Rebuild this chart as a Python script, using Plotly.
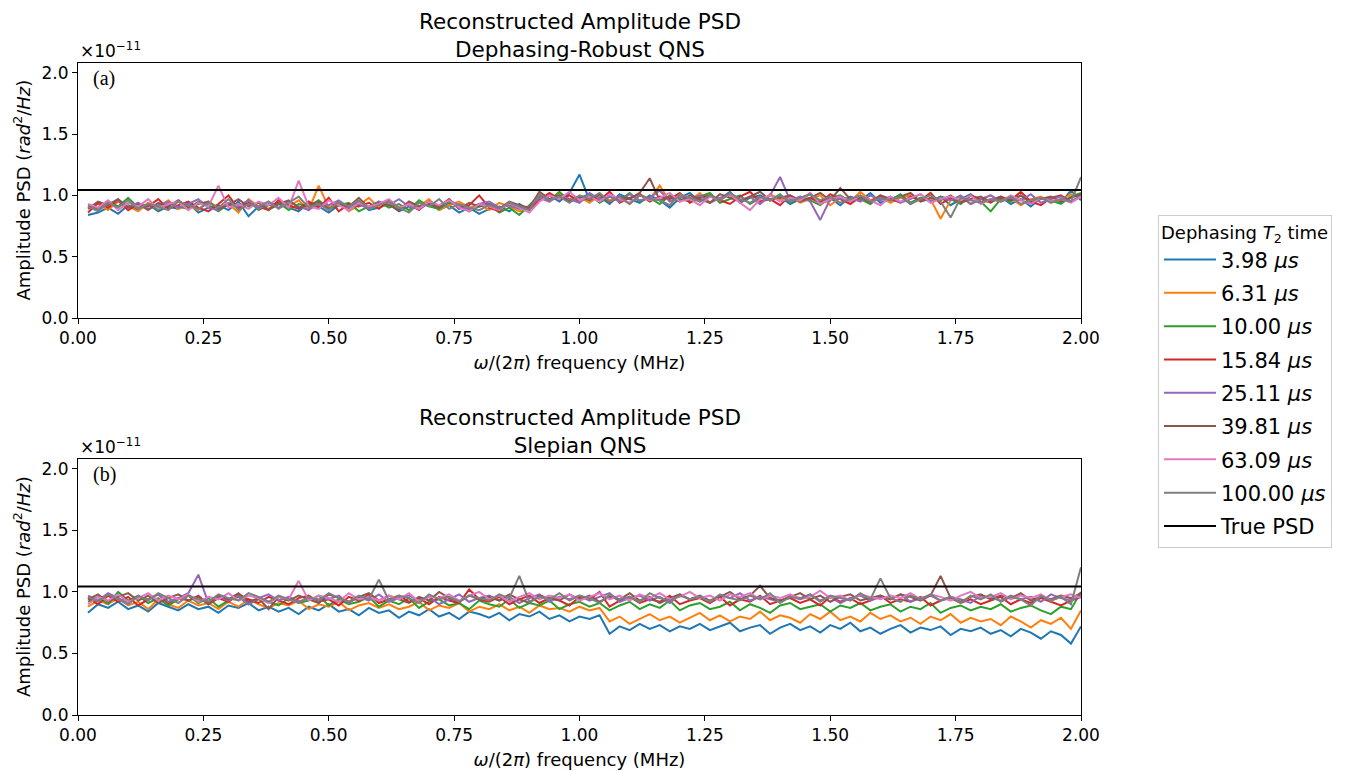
import plotly.graph_objects as go

# Frequency grid (MHz)
FREQ_MHZ = [
    0.02, 0.04, 0.06, 0.08, 0.10, 0.12, 0.14, 0.16, 0.18, 0.20,
    0.22, 0.24, 0.26, 0.28, 0.30, 0.32, 0.34, 0.36, 0.38, 0.40,
    0.42, 0.44, 0.46, 0.48, 0.50, 0.52, 0.54, 0.56, 0.58, 0.60,
    0.62, 0.64, 0.66, 0.68, 0.70, 0.72, 0.74, 0.76, 0.78, 0.80,
    0.82, 0.84, 0.86, 0.88, 0.90, 0.92, 0.94, 0.96, 0.98, 1.00,
    1.02, 1.04, 1.06, 1.08, 1.10, 1.12, 1.14, 1.16, 1.18, 1.20,
    1.22, 1.24, 1.26, 1.28, 1.30, 1.32, 1.34, 1.36, 1.38, 1.40,
    1.42, 1.44, 1.46, 1.48, 1.50, 1.52, 1.54, 1.56, 1.58, 1.60,
    1.62, 1.64, 1.66, 1.68, 1.70, 1.72, 1.74, 1.76, 1.78, 1.80,
    1.82, 1.84, 1.86, 1.88, 1.90, 1.92, 1.94, 1.96, 1.98, 2.00,
]

T2_LABELS = ["3.98", "6.31", "10.00", "15.84", "25.11", "39.81", "63.09", "100.00"]

# Values in units of 1e-11 rad^2/Hz
# (a) Dephasing-Robust QNS
A_398 = [0.84,0.86,0.90,0.85,0.92,0.88,0.93,0.87,0.91,0.89,
         0.94,0.86,0.90,0.92,0.88,0.95,0.83,0.91,0.89,0.93,
         0.90,0.87,0.94,0.91,0.86,0.92,0.89,0.95,0.88,0.90,
         0.93,0.87,0.91,0.89,0.94,0.88,0.92,0.86,0.90,0.85,
         0.89,0.91,0.87,0.93,0.88,0.97,1.00,0.95,1.02,1.17,
         0.96,0.99,0.93,1.01,0.97,0.94,1.00,0.96,0.90,0.98,
         1.02,0.95,0.99,0.97,1.03,0.94,0.98,1.00,0.96,0.99,
         0.93,0.97,1.01,0.95,0.98,0.92,0.99,0.96,1.02,0.94,
         0.97,1.00,0.93,0.98,0.95,0.99,0.92,0.97,1.01,0.94,
         0.96,0.99,0.93,0.97,0.91,0.98,0.95,0.94,1.04,0.96]
A_631 = [0.90,0.93,0.88,0.95,0.91,0.87,0.94,0.90,0.96,0.89,
         0.92,0.88,0.95,0.90,0.93,0.86,0.97,0.91,0.89,0.94,
         0.91,0.96,0.88,1.08,0.90,0.95,0.87,0.92,0.98,0.90,
         0.94,0.89,0.93,0.91,0.97,0.88,0.92,0.95,0.90,0.93,
         0.88,0.94,0.91,0.87,0.90,0.99,0.95,1.02,0.97,0.99,
         0.94,1.00,0.96,0.98,0.93,1.01,0.97,1.08,0.95,0.99,
         0.96,1.02,0.94,0.98,1.00,0.95,0.99,0.93,1.01,0.97,
         0.99,0.94,0.97,1.00,0.92,0.98,0.95,1.03,0.96,0.99,
         0.94,0.98,1.00,0.95,0.97,0.81,0.96,0.99,0.93,0.97,
         1.00,0.95,0.98,0.92,0.97,0.99,0.94,0.96,1.01,0.98]
A_1000 = [0.92,0.89,0.95,0.91,0.98,0.90,0.93,0.88,0.94,0.91,
          0.89,0.95,0.92,0.87,0.93,0.90,0.96,0.88,0.92,0.94,
          0.88,0.93,0.91,0.96,0.89,0.92,0.94,0.87,0.91,0.95,
          0.90,0.93,0.88,0.96,0.91,0.89,0.94,0.92,0.87,0.91,
          0.93,0.86,0.90,0.84,0.92,1.00,0.96,1.03,0.95,0.98,
          1.01,0.94,0.99,0.96,1.02,0.95,0.98,0.93,1.00,0.97,
          0.95,0.99,1.02,0.94,0.97,1.00,0.93,0.98,0.96,1.01,
          0.94,0.99,0.96,0.92,0.98,1.00,0.95,0.97,0.93,0.99,
          0.96,1.01,0.94,0.98,0.95,0.99,0.97,0.93,1.00,0.95,
          0.87,0.97,0.95,1.00,0.94,0.98,0.96,0.93,0.99,1.02]
A_1584 = [0.86,0.94,0.90,0.96,0.88,0.93,0.91,0.97,0.89,0.92,
          0.95,0.90,0.87,0.93,1.00,0.89,0.94,0.91,0.88,0.96,
          0.92,0.89,0.95,0.90,0.98,0.87,0.93,0.91,0.94,0.89,
          0.96,0.90,0.93,0.88,0.95,0.91,0.97,0.89,0.92,1.00,
          0.90,0.87,0.94,0.91,0.89,0.96,1.02,0.97,1.00,0.95,
          0.99,0.96,1.03,0.94,0.98,1.01,0.95,0.99,0.97,1.02,
          0.94,0.98,1.00,0.96,0.93,0.99,1.03,0.95,0.97,0.92,
          1.00,0.96,0.98,0.94,1.01,0.97,0.93,0.99,0.95,1.00,
          0.97,0.94,0.99,0.96,1.02,0.93,0.98,0.95,1.00,0.97,
          0.94,0.99,0.96,1.03,0.95,0.92,0.98,1.00,0.95,0.99]
A_2511 = [0.91,0.88,0.93,0.96,0.90,0.94,0.89,0.92,0.95,0.90,
          0.93,0.97,0.90,0.88,0.94,0.91,0.96,0.89,0.93,0.90,
          0.95,0.91,0.88,0.94,0.92,0.96,0.90,0.93,0.89,0.95,
          0.92,0.97,0.91,0.89,0.94,0.90,0.96,0.92,0.88,0.93,
          0.95,0.90,0.92,0.89,0.91,0.98,0.95,1.00,0.97,0.94,
          1.02,0.97,0.99,0.95,1.01,0.96,0.98,1.04,0.95,0.99,
          0.97,1.00,0.94,0.98,1.01,0.96,0.99,0.93,1.00,1.15,
          0.96,0.99,0.95,0.80,0.97,0.97,0.98,0.95,1.00,0.96,
          0.99,0.94,0.97,1.01,0.95,0.98,0.96,1.00,0.93,0.97,
          1.00,0.95,0.98,0.96,1.01,0.94,0.97,0.99,0.95,1.00]
A_3981 = [0.89,0.95,0.92,0.97,0.90,0.93,0.88,0.94,0.91,0.96,
          0.90,0.93,0.95,0.89,0.92,0.97,0.91,0.94,0.88,0.93,
          0.96,0.90,0.92,0.95,0.89,0.93,0.91,0.98,0.90,0.94,
          0.92,0.88,0.95,0.91,0.93,0.90,0.96,0.89,0.94,0.91,
          0.93,0.89,0.95,0.92,0.90,1.03,0.97,1.00,0.95,0.99,
          0.96,1.01,0.94,0.99,0.97,1.02,1.14,0.96,0.99,0.95,
          1.00,0.97,0.94,1.01,0.98,0.95,0.99,1.03,0.96,0.98,
          1.00,0.95,0.98,1.02,0.96,1.06,0.97,0.99,0.94,1.00,
          0.96,0.99,1.02,0.95,0.98,0.96,1.00,0.94,0.97,0.99,
          0.95,0.98,0.96,1.00,0.94,0.97,0.99,0.95,0.98,1.01]
A_6309 = [0.93,0.90,0.96,0.88,0.94,0.91,0.97,0.89,0.93,0.95,
          0.88,0.94,0.91,1.08,0.90,0.93,0.89,0.95,0.92,0.98,
          0.90,1.12,0.91,0.89,0.96,0.92,0.88,0.94,0.91,0.93,
          0.97,0.90,0.93,0.89,0.95,0.92,0.96,0.90,0.87,0.93,
          0.91,0.88,0.94,0.90,0.86,0.95,1.00,0.97,1.03,0.96,
          0.99,0.95,1.01,0.97,0.94,1.00,0.96,0.98,1.02,0.95,
          0.97,0.92,0.99,0.96,1.01,0.94,0.88,0.97,1.00,0.95,
          0.98,0.96,1.02,0.93,0.97,0.99,0.95,1.00,0.96,0.92,
          0.99,0.95,0.98,1.01,0.94,0.97,0.99,0.96,1.00,0.93,
          0.97,0.95,1.00,0.96,0.93,0.98,0.95,0.97,0.94,0.99]
A_10000 = [0.91,0.87,0.94,0.90,0.96,0.89,0.93,0.91,0.88,0.95,
           0.92,0.89,0.94,0.90,0.97,0.88,0.93,0.91,0.95,0.89,
           0.94,0.99,0.90,0.93,0.88,0.95,0.91,0.96,0.89,0.92,
           0.95,0.90,0.86,0.94,0.91,0.97,0.89,0.93,0.90,0.88,
           0.92,0.89,0.94,0.91,0.88,1.01,0.96,0.99,0.94,1.00,
           0.97,1.02,0.95,0.99,0.93,1.00,0.97,0.96,0.92,1.01,
           0.98,0.95,1.00,0.96,1.02,0.97,0.94,0.99,0.96,1.00,
           0.95,0.98,1.01,0.96,0.99,0.94,0.97,1.00,0.95,0.98,
           0.96,0.99,0.93,0.97,1.00,0.95,0.82,0.98,0.96,0.94,
           0.97,0.95,0.99,0.93,0.96,0.98,0.94,0.97,0.95,1.15]

# (b) Slepian QNS
B_398 = [0.83,0.90,0.87,0.92,0.86,0.89,0.84,0.91,0.88,0.85,
         0.90,0.86,0.88,0.83,0.89,0.87,0.91,0.85,0.88,0.84,
         0.87,0.82,0.88,0.85,0.90,0.84,0.86,0.81,0.87,0.83,
         0.85,0.79,0.84,0.81,0.86,0.80,0.83,0.78,0.84,0.82,
         0.79,0.83,0.77,0.82,0.80,0.84,0.78,0.81,0.76,0.80,
         0.78,0.81,0.66,0.72,0.69,0.74,0.70,0.73,0.68,0.72,
         0.70,0.74,0.69,0.72,0.75,0.68,0.71,0.73,0.66,0.71,
         0.74,0.69,0.72,0.67,0.73,0.70,0.75,0.68,0.71,0.66,
         0.70,0.73,0.67,0.71,0.69,0.72,0.65,0.70,0.68,0.71,
         0.66,0.69,0.64,0.70,0.67,0.62,0.68,0.65,0.58,0.72]
B_631 = [0.88,0.93,0.90,0.95,0.89,0.92,0.86,0.94,0.90,0.87,
         0.93,0.89,0.91,0.86,0.92,0.88,0.94,0.90,0.87,0.91,
         0.89,0.93,0.86,0.90,0.88,0.92,0.85,0.89,0.91,0.87,
         0.90,0.86,0.88,0.92,0.85,0.89,0.87,0.91,0.84,0.88,
         0.86,0.90,0.85,0.88,0.83,0.89,0.86,0.87,0.84,0.88,
         0.85,0.87,0.76,0.80,0.74,0.78,0.82,0.77,0.80,0.75,
         0.79,0.83,0.77,0.81,0.76,0.80,0.78,0.84,0.77,0.81,
         0.79,0.75,0.82,0.78,0.84,0.77,0.80,0.76,0.83,0.78,
         0.81,0.76,0.79,0.74,0.80,0.77,0.82,0.75,0.79,0.76,
         0.78,0.73,0.80,0.76,0.71,0.77,0.74,0.79,0.70,0.85]
B_1000 = [0.92,0.96,0.90,1.00,0.93,0.97,0.91,0.95,0.89,0.94,
          0.97,0.91,0.95,0.88,0.93,0.96,0.90,0.94,0.92,0.89,
          0.95,0.91,0.93,0.97,0.89,0.94,0.90,0.92,0.96,0.88,
          0.93,0.90,0.95,0.87,0.92,0.94,0.89,0.91,0.86,0.93,
          0.90,0.88,0.94,0.87,0.91,0.89,0.93,0.86,0.90,0.92,
          0.88,0.91,0.85,0.89,0.92,0.86,0.90,0.87,0.93,0.85,
          0.89,0.91,0.86,0.88,0.92,0.85,0.90,0.87,0.83,0.89,
          0.91,0.86,0.88,0.90,0.84,0.89,0.87,0.91,0.85,0.88,
          0.90,0.84,0.88,0.86,0.91,0.83,0.87,0.89,0.85,0.88,
          0.86,0.90,0.84,0.87,0.89,0.85,0.82,0.88,0.86,1.00]
B_1584 = [0.95,0.90,0.97,0.92,0.96,0.89,0.94,0.98,0.91,0.95,
          0.93,0.97,0.90,0.95,0.92,0.98,0.94,0.91,0.96,0.93,
          0.90,0.95,0.97,0.92,0.94,0.89,0.96,0.93,0.98,0.91,
          0.94,0.97,0.92,0.95,0.90,0.96,0.93,0.91,1.02,0.94,
          0.92,0.96,0.90,0.94,0.97,0.91,0.95,0.93,0.89,0.96,
          0.94,1.00,0.88,0.93,0.96,0.91,0.94,0.92,0.97,0.90,
          0.93,0.95,0.91,0.96,0.89,0.94,0.92,0.97,0.90,0.93,
          0.95,0.91,0.94,0.89,0.96,0.92,0.95,0.90,0.93,0.97,
          0.91,0.94,0.92,0.96,0.89,0.93,0.95,0.91,0.94,0.90,
          0.93,0.96,0.90,0.94,0.91,0.95,0.92,0.89,0.93,0.96]
B_2511 = [0.97,0.93,0.99,0.95,0.91,0.96,0.94,0.98,0.92,0.95,
          0.99,1.14,0.91,0.96,0.93,0.97,0.90,0.95,0.98,0.93,
          0.96,0.92,0.95,0.94,0.94,0.97,0.91,0.96,0.93,0.98,
          0.92,0.95,0.97,0.93,0.96,0.90,0.94,0.98,0.92,0.95,
          0.97,0.93,0.96,0.91,0.95,0.98,0.92,0.96,0.94,0.97,
          0.93,0.96,0.99,0.92,0.95,0.97,0.93,0.96,0.91,0.98,
          0.94,0.96,0.92,0.97,0.95,0.99,0.93,0.96,0.94,0.92,
          0.97,0.95,0.98,0.93,0.96,0.91,0.95,0.97,0.93,0.96,
          0.94,0.98,0.92,0.95,0.97,0.93,0.96,0.94,0.91,0.97,
          0.95,0.93,0.97,0.94,0.96,0.92,0.98,0.95,0.93,0.97]
B_3981 = [0.94,0.98,0.92,0.96,0.99,0.93,0.97,0.91,0.95,0.98,
          0.93,0.96,0.90,0.97,0.94,0.99,0.92,0.95,0.86,0.96,
          0.93,0.97,0.94,0.91,0.98,0.95,0.92,0.96,0.99,0.93,
          0.97,0.94,0.91,0.96,0.93,1.00,0.95,0.92,0.97,0.94,
          0.96,0.93,0.98,0.94,0.91,0.97,0.95,0.93,0.98,0.94,
          0.97,0.92,0.96,0.94,0.99,0.93,0.96,0.91,0.95,0.98,
          0.94,0.97,0.93,0.96,1.00,0.94,0.97,1.05,0.95,0.93,
          0.96,0.99,0.94,0.97,0.92,0.96,0.98,0.93,0.95,0.97,
          0.94,0.98,0.96,0.93,0.97,1.13,0.95,0.92,0.96,0.98,
          0.94,0.97,0.95,0.99,0.93,0.96,0.94,0.97,0.95,0.99]
B_6309 = [0.90,0.96,0.93,0.98,0.92,0.95,0.99,0.93,0.97,0.94,
          0.98,0.92,0.96,0.94,0.99,0.93,0.97,0.95,0.91,0.96,
          0.94,1.09,0.93,0.97,0.95,0.92,0.99,0.94,0.96,0.93,
          0.97,0.94,0.99,0.92,0.96,0.95,0.98,0.93,0.97,1.00,
          0.94,0.97,0.92,0.96,0.99,0.94,0.97,0.95,0.98,0.93,
          0.96,0.99,0.94,0.97,0.93,0.98,0.95,0.99,0.94,0.96,
          1.00,0.95,0.97,0.93,0.98,0.96,0.99,0.94,0.97,0.95,
          0.98,0.94,0.96,1.01,0.95,0.97,0.93,0.98,0.96,0.94,
          0.97,0.95,0.99,0.94,0.98,0.96,0.93,0.97,1.00,0.95,
          0.96,0.99,0.94,0.97,0.95,0.98,0.93,0.96,0.98,0.95]
B_10000 = [0.96,0.92,0.98,0.94,0.90,0.97,0.93,0.99,0.95,0.91,
           0.97,0.94,0.92,0.98,0.95,0.93,0.99,0.96,0.92,0.97,
           0.94,0.91,0.96,0.93,0.99,0.95,0.92,0.97,0.94,1.10,
           0.93,0.97,0.95,0.91,0.98,0.94,0.96,0.92,0.97,0.95,
           0.93,0.98,0.95,1.13,0.92,0.96,0.94,0.99,0.93,0.97,
           0.95,0.91,0.98,0.94,0.96,0.92,0.99,0.95,0.93,0.97,
           0.94,0.96,0.92,0.98,0.95,0.93,0.97,0.94,0.99,0.91,
           0.96,0.94,0.98,0.92,0.97,0.95,0.93,0.99,0.94,1.11,
           0.95,0.92,0.97,0.94,0.98,0.93,0.96,0.91,0.97,0.94,
           0.98,0.92,0.96,0.94,0.89,0.97,0.93,0.96,0.90,1.20]

TRUE_PSD_LEVEL = 1.045
X_RANGE = [0.0, 2.0]
Y_RANGE = [0.0, 2.08]
X_TICKS = [0.0, 0.25, 0.5, 0.75, 1.0, 1.25, 1.5, 1.75, 2.0]
Y_TICKS = [0.0, 0.5, 1.0, 1.5, 2.0]

SERIES_A = [A_398, A_631, A_1000, A_1584, A_2511, A_3981, A_6309, A_10000]
SERIES_B = [B_398, B_631, B_1000, B_1584, B_2511, B_3981, B_6309, B_10000]
COLORS = ["#1f77b4", "#ff7f0e", "#2ca02c", "#d62728",
          "#9467bd", "#8c564b", "#e377c2", "#7f7f7f"]

FONT = "DejaVu Sans"
# page body has an 8px margin; the figure sits at (8, 8) in the window
OFF = 8
W, H = 1341, 763
XDOM = [(78 - OFF) / W, (1081 - OFF) / W]
YDOM_A = [1 - (318 - OFF) / H, 1 - (63 - OFF) / H]
YDOM_B = [1 - (715 - OFF) / H, 1 - (459 - OFF) / H]

fig = go.Figure()

for i, lab in enumerate(T2_LABELS):
    name = f"{lab} <i>μs</i>"
    fig.add_trace(go.Scatter(x=FREQ_MHZ, y=SERIES_A[i], mode="lines",
                             line=dict(color=COLORS[i], width=2),
                             name=name, legendgroup=lab, showlegend=True,
                             xaxis="x", yaxis="y"))
    fig.add_trace(go.Scatter(x=FREQ_MHZ, y=SERIES_B[i], mode="lines",
                             line=dict(color=COLORS[i], width=2),
                             name=name, legendgroup=lab, showlegend=False,
                             xaxis="x2", yaxis="y2"))

fig.add_trace(go.Scatter(x=X_RANGE, y=[TRUE_PSD_LEVEL, TRUE_PSD_LEVEL], mode="lines",
                         line=dict(color="black", width=2), name="True PSD",
                         legendgroup="true", showlegend=True, xaxis="x", yaxis="y"))
fig.add_trace(go.Scatter(x=X_RANGE, y=[TRUE_PSD_LEVEL, TRUE_PSD_LEVEL], mode="lines",
                         line=dict(color="black", width=2), name="True PSD",
                         legendgroup="true", showlegend=False, xaxis="x2", yaxis="y2"))

xtitle = "<i>ω</i>/(2<i>π</i>) frequency (MHz)"
ytitle = "Amplitude PSD (<i>rad</i><sup>2</sup>/<i>Hz</i>)"

def xaxis(anchor):
    return dict(domain=XDOM, anchor=anchor, range=X_RANGE, tickvals=X_TICKS,
                tickformat=".2f", showline=True, linecolor="black", linewidth=1,
                mirror=True, ticks="outside", ticklen=5, tickcolor="black",
                showgrid=False, zeroline=False, automargin=False,
                tickfont=dict(family=FONT, size=17, color="black"),
                title=dict(text=xtitle, font=dict(family=FONT, size=18, color="black"),
                           standoff=8))

def yaxis(anchor, dom):
    return dict(domain=dom, anchor=anchor, range=Y_RANGE, tickvals=Y_TICKS,
                tickformat=".1f", showline=True, linecolor="black", linewidth=1,
                mirror=True, ticks="outside", ticklen=5, tickcolor="black",
                showgrid=False, zeroline=False, automargin=False,
                tickfont=dict(family=FONT, size=17, color="black"))

annotations = []
for dom, sub, panel in [(YDOM_A, "Dephasing-Robust QNS", "(a)"),
                        (YDOM_B, "Slepian QNS", "(b)")]:
    annotations.append(dict(text=f"Reconstructed Amplitude PSD<br>{sub}",
                            x=(XDOM[0] + XDOM[1]) / 2, y=dom[1], xref="paper", yref="paper",
                            xanchor="center", yanchor="bottom", yshift=-1, showarrow=False,
                            font=dict(family=FONT, size=21.5, color="black")))
    annotations.append(dict(text="×10<sup>−11</sup>", x=XDOM[0], y=dom[1],
                            xref="paper", yref="paper", xanchor="left", yanchor="bottom",
                            yshift=0, showarrow=False,
                            font=dict(family=FONT, size=17, color="black")))
    annotations.append(dict(text=panel, x=XDOM[0], y=dom[1], xref="paper", yref="paper",
                            xanchor="left", yanchor="top", xshift=13, yshift=-2,
                            showarrow=False,
                            font=dict(family="Liberation Serif", size=20, color="black")))
    annotations.append(dict(text=ytitle, x=(22 - OFF) / W, y=(dom[0] + dom[1]) / 2,
                            xref="paper", yref="paper", xanchor="center", yanchor="middle",
                            textangle=-90, showarrow=False,
                            font=dict(family=FONT, size=18, color="black")))

fig.update_layout(
    width=W, height=H,
    margin=dict(l=0, r=0, t=0, b=0),
    paper_bgcolor="white", plot_bgcolor="white",
    font=dict(family=FONT, color="black"),
    xaxis=xaxis("y"), yaxis=yaxis("x", YDOM_A),
    xaxis2=xaxis("y2"), yaxis2=yaxis("x2", YDOM_B),
    annotations=annotations,
    legend=dict(x=(1158 - OFF) / W, y=1 - (215 - OFF) / H, xanchor="left", yanchor="top",
                bgcolor="white", bordercolor="#cccccc", borderwidth=1,
                font=dict(family=FONT, size=21, color="black"),
                title=dict(text="Dephasing <i>T</i><sub>2</sub> time",
                           font=dict(family=FONT, size=18, color="black")),
                tracegroupgap=3, itemwidth=52),
    showlegend=True,
)

fig.write_html("out.html")
